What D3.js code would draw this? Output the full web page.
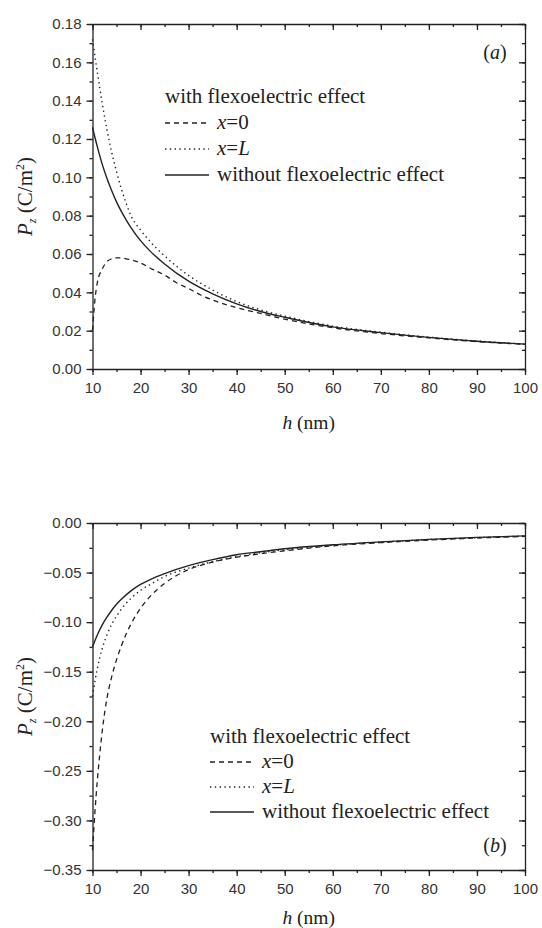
<!DOCTYPE html>
<html><head><meta charset="utf-8">
<script src="https://cdn.jsdelivr.net/npm/d3@7"></script>
<style>body{margin:0;background:#fff}svg{display:block}</style>
</head><body>
<script>
// ---- data ----
const xTicks = [10,20,30,40,50,60,70,80,90,100];
const yTicksA = [0,0.02,0.04,0.06,0.08,0.10,0.12,0.14,0.16,0.18];
const yTicksB = [0,-0.05,-0.10,-0.15,-0.20,-0.25,-0.30,-0.35];
const legendLabels = ["x=0","x=L","without flexoelectric effect"];

// panel (a)
const hA_without = [10,11,12,13,14,15,16,17,18,20,22,25,30,35,40,45,50,60,70,80,90,100];
const pA_without = [0.126,0.116,0.107,0.0995,0.093,0.0872,0.0822,0.0778,0.0738,0.067,0.0615,0.0548,0.0458,0.0392,0.034,0.030,0.027,0.022,0.019,0.0165,0.0145,0.013];
const hA_xL = [10,11,12,13,14,15,16,17,18,20,22,25,30,35,40,45,50,60,70,80,90,100];
const pA_xL = [0.172,0.155,0.139,0.125,0.113,0.103,0.094,0.0865,0.080,0.0725,0.0665,0.059,0.0488,0.0412,0.0352,0.0308,0.0276,0.0224,0.0192,0.0166,0.0146,0.0130];
const hA_x0 = [10,10.5,11,12,13,14,15,16,17,18,20,22.5,25,27.5,30,32.5,35,40,45,50,60,70,80,90,100];
const pA_x0 = [0.020,0.036,0.045,0.052,0.056,0.0575,0.058,0.058,0.0575,0.057,0.0553,0.052,0.049,0.045,0.042,0.0386,0.036,0.032,0.029,0.026,0.0215,0.0185,0.0162,0.0143,0.0128];

// panel (b)
const hB_without = [10,11,12,13,14,15,16,18,20,22,25,30,35,40,45,50,60,70,80,90,100];
const pB_without = [-0.125,-0.113,-0.103,-0.095,-0.088,-0.082,-0.077,-0.0685,-0.062,-0.057,-0.051,-0.043,-0.037,-0.032,-0.029,-0.026,-0.022,-0.019,-0.0165,-0.0145,-0.013];
const hB_xL = [10,10.5,11,11.5,12,13,14,15,16,18,20,22,25,30,35,40,45,50,60,70,80,90,100];
const pB_xL = [-0.175,-0.160,-0.147,-0.136,-0.127,-0.113,-0.102,-0.094,-0.087,-0.076,-0.068,-0.062,-0.054,-0.0455,-0.039,-0.034,-0.030,-0.027,-0.0225,-0.0193,-0.0168,-0.0148,-0.0132];
const hB_x0 = [10,10.5,11,11.5,12,13,14,15,16,17,18,20,22,25,27.5,30,35,40,45,50,60,70,80,90,100];
const pB_x0 = [-0.330,-0.292,-0.260,-0.234,-0.211,-0.177,-0.155,-0.138,-0.124,-0.112,-0.102,-0.086,-0.074,-0.061,-0.053,-0.047,-0.0395,-0.0345,-0.031,-0.028,-0.023,-0.0198,-0.0172,-0.0152,-0.0135];

const W = 542, H = 928;
const svg = d3.select("body").append("svg").attr("width", W).attr("height", H);
svg.append("rect").attr("width", W).attr("height", H).attr("fill", "#fff");

const ink = "#222";
const sans = "'Liberation Sans', Arial, sans-serif";
const serif = "'Liberation Serif', 'Times New Roman', serif";
const styles = {
  x0: {dash: "5,4", w: 1.3},
  xL: {dash: "1.4,3.4", w: 1.4},
  without: {dash: null, w: 1.4}
};

function panel(opt) {
  const x = d3.scaleLinear().domain([10,100]).range([92.5, 525]);
  const y = d3.scaleLinear().domain(opt.yDomain).range([opt.bottom, opt.top]);
  const g = svg.append("g");
  const minorX = d3.range(10, 100.01, 5);
  const minorY = d3.range(opt.yDomain[0], opt.yDomain[1] + 1e-9, opt.minorStep);

  // bottom axis
  const bx = g.append("g").attr("transform", `translate(0,${opt.bottom})`)
    .call(d3.axisBottom(x).tickValues(xTicks).tickSize(6).tickSizeOuter(0).tickPadding(7).tickFormat(d3.format("d")));
  bx.selectAll(".tick text").attr("font-family", sans).attr("font-size", 15).attr("fill", "#333");
  g.append("g").attr("transform", `translate(0,${opt.bottom})`)
    .call(d3.axisBottom(x).tickValues(minorX).tickSize(3).tickFormat("")).select(".domain").remove();
  // top axis (inward)
  g.append("g").attr("transform", `translate(0,${opt.top})`)
    .call(d3.axisBottom(x).tickValues(xTicks).tickSize(6).tickSizeOuter(0).tickFormat(""));
  g.append("g").attr("transform", `translate(0,${opt.top})`)
    .call(d3.axisBottom(x).tickValues(minorX).tickSize(3).tickFormat("")).select(".domain").remove();
  // left axis
  const ly = g.append("g").attr("transform", `translate(${x.range()[0]},0)`)
    .call(d3.axisLeft(y).tickValues(opt.yTicks).tickSize(6).tickSizeOuter(0).tickPadding(5).tickFormat(d3.format(".2f")));
  ly.selectAll(".tick text").attr("font-family", sans).attr("font-size", 15).attr("fill", "#333");
  g.append("g").attr("transform", `translate(${x.range()[0]},0)`)
    .call(d3.axisLeft(y).tickValues(minorY).tickSize(3).tickFormat("")).select(".domain").remove();
  // right axis (inward)
  g.append("g").attr("transform", `translate(${x.range()[1]},0)`)
    .call(d3.axisLeft(y).tickValues(opt.yTicks).tickSize(6).tickSizeOuter(0).tickFormat(""));
  g.append("g").attr("transform", `translate(${x.range()[1]},0)`)
    .call(d3.axisLeft(y).tickValues(minorY).tickSize(3).tickFormat("")).select(".domain").remove();
  g.selectAll(".domain, .tick line").attr("stroke", ink).attr("stroke-width", 1.3);

  // curves
  const line = d3.line().x(d => x(d[0])).y(d => y(d[1])).curve(d3.curveMonotoneX);
  opt.series.forEach(s => {
    const pts = s.h.map((h, i) => [h, s.p[i]]);
    g.append("path").datum(pts).attr("d", line).attr("fill", "none")
      .attr("stroke", ink).attr("stroke-width", styles[s.key].w)
      .attr("stroke-dasharray", styles[s.key].dash);
  });

  // x title
  const xt = g.append("text").attr("x", (x.range()[0] + x.range()[1]) / 2).attr("y", opt.xTitleY)
    .attr("text-anchor", "middle").attr("font-family", serif).attr("font-size", 19.5).attr("fill", ink);
  xt.append("tspan").attr("font-style", "italic").text("h");
  xt.append("tspan").text(" (nm)");

  // y title
  const yt = g.append("text").attr("transform", `translate(32,${(opt.top + opt.bottom) / 2}) rotate(-90)`)
    .attr("text-anchor", "middle").attr("font-family", serif).attr("font-size", 21).attr("fill", ink);
  yt.append("tspan").attr("font-style", "italic").text("P");
  yt.append("tspan").attr("font-style", "italic").attr("font-size", 12).attr("dy", 4).text("z");
  yt.append("tspan").attr("dy", -4).text(" (C/m");
  yt.append("tspan").attr("font-size", 12).attr("dy", -8).text("2");
  yt.append("tspan").attr("dy", 8).text(")");

  // panel letter
  const pl = g.append("text").attr("x", 495).attr("y", opt.letterY).attr("text-anchor", "middle")
    .attr("font-family", serif).attr("font-size", 20).attr("fill", ink);
  pl.append("tspan").text("(");
  pl.append("tspan").attr("font-style", "italic").text(opt.letter);
  pl.append("tspan").text(")");

  // legend
  const L = opt.legend;
  g.append("text").attr("x", L.x).attr("y", L.y).attr("font-family", serif).attr("font-size", 21)
    .attr("fill", ink).text("with flexoelectric effect");
  const keys = ["x0", "xL", "without"];
  keys.forEach((k, i) => {
    const yy = L.y + (i + 1) * L.dy;
    g.append("line").attr("x1", L.x).attr("x2", L.x + 44).attr("y1", yy - 6).attr("y2", yy - 6)
      .attr("stroke", ink).attr("stroke-width", styles[k].w).attr("stroke-dasharray", styles[k].dash);
    const t = g.append("text").attr("x", L.x + 52).attr("y", yy).attr("font-family", serif)
      .attr("font-size", 21).attr("fill", ink);
    if (k === "without") t.text(legendLabels[i]);
    else {
      const parts = legendLabels[i].split("=");
      t.append("tspan").attr("font-style", "italic").text(parts[0]);
      t.append("tspan").text("=");
      if (parts[1] === "L") t.append("tspan").attr("font-style", "italic").text(parts[1]);
      else t.append("tspan").text(parts[1]);
    }
  });
}

panel({
  yDomain: [0, 0.18], top: 24, bottom: 369, yTicks: yTicksA, minorStep: 0.01,
  xTitleY: 429, letter: "a", letterY: 59,
  legend: {x: 165, y: 103, dy: 26},
  series: [
    {key: "x0", h: hA_x0, p: pA_x0},
    {key: "xL", h: hA_xL, p: pA_xL},
    {key: "without", h: hA_without, p: pA_without}
  ]
});
panel({
  yDomain: [-0.35, 0], top: 523, bottom: 870, yTicks: yTicksB, minorStep: 0.025,
  xTitleY: 924, letter: "b", letterY: 852,
  legend: {x: 210, y: 743, dy: 25},
  series: [
    {key: "x0", h: hB_x0, p: pB_x0},
    {key: "xL", h: hB_xL, p: pB_xL},
    {key: "without", h: hB_without, p: pB_without}
  ]
});
</script>
</body></html>
